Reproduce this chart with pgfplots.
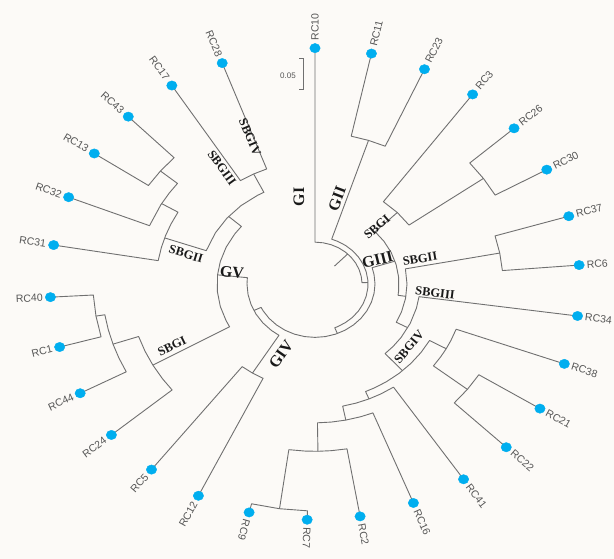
\documentclass[border=0pt]{standalone}
\usepackage{pgfplots}
\pgfplotsset{compat=1.18}
\usepackage{pgfplotstable}
\usepackage{fontspec}
\setmainfont{Liberation Serif}
\newfontfamily\tipfont{Liberation Sans}

\definecolor{bgcol}{RGB}{252,250,247}
\definecolor{branch}{RGB}{112,112,112}
\definecolor{tipblue}{RGB}{0,174,239}
\definecolor{tiptext}{RGB}{85,85,85}
\definecolor{grptext}{RGB}{25,25,25}

\tikzset{
  grp/.style={font=\bfseries\fontsize{16}{18}\selectfont, text=grptext, inner sep=0pt},
  sub/.style={font=\bfseries\fontsize{12.5}{14}\selectfont, text=grptext, inner sep=0pt},
  tipR/.style={anchor=west, inner xsep=7.5pt, inner ysep=0pt, font=\tipfont\fontsize{10.5}{12}\selectfont, text=tiptext},
  tipL/.style={anchor=east, inner xsep=7.5pt, inner ysep=0pt, font=\tipfont\fontsize{10.5}{12}\selectfont, text=tiptext},
}
\pgfplotsset{
  br/.style={draw=branch, line width=0.9pt, no markers, data cs=polar, line join=round},
}

% tip positions: angle (deg), radius
\pgfplotstableread{
t r
90 265
77.7 265
65.6 265
53.5 265
41.3 265
29.0 265
16.7 265
4.6 265
-7.8 265
-19.8 265
-31.9 265
-43.8 265
-55.9 265
-68.2 265
-80.2 265
-91.7 265
-104.4 265
-116.1 265
-128.1 265
-140.2 265
-152.4 265
-164.5 265
-176.8 265
170.5 265
158.4 265
146.4 265
134.8 265
122.7 265
110.5 265
}\tips

% tip label: angle, rotation, name (right-hand and left-hand reading)
\newcommand{\tipR}[3]{\node[tipR, rotate=#2] at (axis cs:{265*cos(#1)},{265*sin(#1)}) {#3};}
\newcommand{\tipL}[3]{\node[tipL, rotate=#2] at (axis cs:{265*cos(#1)},{265*sin(#1)}) {#3};}

\begin{document}
\begin{tikzpicture}
\begin{axis}[
  width=614pt, height=559pt, scale only axis,
  xmin=-315, xmax=299, ymin=-309.0, ymax=319.1,
  axis line style={draw=none}, xtick=\empty, ytick=\empty,
  axis background/.style={fill=bgcol},
  clip=false,
]
% backbone
\addplot[br] coordinates {(45.9,28) (45.9,47)};
\addplot[br] coordinates {(90,265) (90,47) (80,47) (70,47) (60,47) (50,47) (40,47) (30,47) (20,47) (10,47) (1.8,47) (1.8,53)};
\addplot[br] coordinates {(71.65,170) (71.65,53) (65,53) (55,53) (45,53) (35,53) (25,53) (15,53) (5,53) (-5,53) (-15,53) (-25,53) (-35,53) (-45,53) (-55,53) (-65,53) (-68.1,53) (-68.1,60)};
\addplot[br] coordinates {(17.8,84) (17.8,60) (10,60) (0,60) (-10,60) (-20,60) (-30,60) (-40,60) (-50,60) (-60,60) (-70,60) (-80,60) (-90,60) (-100,60) (-110,60) (-120,60) (-130,60) (-140,60) (-150,60) (-154,60) (-154,68)};
\addplot[br] coordinates {(-122,118) (-122,68) (-130,68) (-140,68) (-150,68) (-160,68) (-170,68) (-180,68) (-186,68) (-186,98)};
% GII
\addplot[br] coordinates {(77.7,265) (77.7,170) (71.65,170) (65.6,170) (65.6,265)};
% GIV
\addplot[br] coordinates {(-128.1,265) (-128.1,118) (-122,118) (-116.1,118) (-116.1,265)};
% GV
\addplot[br] coordinates {(138.7,115) (138.7,98) (145,98) (155,98) (165,98) (174,98) (185,98) (195,98) (205,98) (209.35,98) (209.35,186)};
\addplot[br] coordinates {(161,159) (161,115) (150,115) (140,115) (130,115) (120,115) (116.4,115) (116.4,138)};
\addplot[br] coordinates {(122.7,265) (122.7,138) (116.4,138) (110.5,138) (110.5,265)};
\addplot[br] coordinates {(170.5,265) (170.5,159) (165,159) (160,159) (155,159) (149.5,159) (149.5,178)};
\addplot[br] coordinates {(158.4,265) (158.4,178) (150,178) (145,178) (140.6,178) (140.6,200)};
\addplot[br] coordinates {(146.4,265) (146.4,200) (140.6,200) (134.8,200) (134.8,265)};
\addplot[br] coordinates {(219.8,265) (219.8,186) (215,186) (209.35,186) (204,186) (198.5,186) (198.5,213)};
\addplot[br] coordinates {(207.6,265) (207.6,213) (203,213) (198.5,213) (194,213) (189.35,213) (189.35,222)};
\addplot[br] coordinates {(195.5,265) (195.5,222) (189.35,222) (183.2,222) (183.2,265)};
% GIII
\addplot[br] coordinates {(44.3,115) (44.3,84) (35,84) (25,84) (15,84) (5,84) (-5,84) (-8.7,84) (-8.7,92)};
\addplot[br] coordinates {(53.5,265) (53.5,115) (44.3,115) (35.15,115) (35.15,206)};
\addplot[br] coordinates {(41.3,265) (41.3,206) (35.15,206) (29,206) (29,265)};
\addplot[br] coordinates {(10.65,188) (10.65,92) (0,92) (-10,92) (-20,92) (-27.9,92) (-27.9,105)};
\addplot[br] coordinates {(16.7,265) (16.7,188) (10.65,188) (4.6,188) (4.6,265)};
\addplot[br] coordinates {(-7.8,265) (-7.8,105) (-15,105) (-25,105) (-35,105) (-42,105) (-48.1,105) (-48.1,131)};
\addplot[br] coordinates {(-29,150) (-29,131) (-36,131) (-43,131) (-50,131) (-57,131) (-63,131) (-67.3,131) (-67.3,140)};
\addplot[br] coordinates {(-19.8,265) (-19.8,150) (-25,150) (-29,150) (-33,150) (-37.85,150) (-37.85,193)};
\addplot[br] coordinates {(-31.9,265) (-31.9,193) (-37.85,193) (-43.8,193) (-43.8,265)};
\addplot[br] coordinates {(-55.9,265) (-55.9,140) (-62,140) (-67.3,140) (-73,140) (-78.6,140) (-78.6,156)};
\addplot[br] coordinates {(-68.2,265) (-68.2,156) (-73,156) (-78.6,156) (-84,156) (-89.1,156) (-89.1,188)};
\addplot[br] coordinates {(-80.2,265) (-80.2,188) (-85,188) (-89.1,188) (-93,188) (-98,188) (-98,255)};
\addplot[br] coordinates {(-104.4,265) (-104.4,255) (-98,255) (-91.7,255) (-91.7,265)};

% scale bar
\addplot[draw=branch, line width=0.8pt, no markers] coordinates {(-16,254) (-12,254) (-12,219) (-16,219)};
\node[font=\tipfont\fontsize{8}{9}\selectfont, text=tiptext] at (axis cs:-27,234) {0.05};

% tips
\addplot[only marks, data cs=polar, mark=*, mark size=5.2pt,
  mark options={draw=tipblue, fill=tipblue, yscale=0.9}]
  table[x=t, y=r] {\tips};

\tipR{90}{90}{RC10}
\tipR{77.7}{76.2}{RC11}
\tipR{65.6}{63.0}{RC23}
\tipR{53.5}{50.2}{RC3}
\tipR{41.3}{38.0}{RC26}
\tipR{29.0}{26.3}{RC30}
\tipR{16.7}{14.95}{RC37}
\tipR{4.6}{4.1}{RC6}
\tipR{-7.8}{-6.95}{RC34}
\tipR{-19.8}{-17.8}{RC38}
\tipR{-31.9}{-29.0}{RC21}
\tipR{-43.8}{-40.5}{RC22}
\tipR{-55.9}{-52.7}{RC41}
\tipR{-68.2}{-65.8}{RC16}
\tipR{-80.2}{-79.0}{RC2}
\tipR{-91.7}{-91.9}{RC7}
\tipR{-104.4}{-106.1}{RC9}
\tipL{-116.1}{61.1}{RC12}
\tipL{-128.1}{48.6}{RC5}
\tipL{-140.2}{36.5}{RC24}
\tipL{-152.4}{24.95}{RC44}
\tipL{-164.5}{13.9}{RC1}
\tipL{-176.8}{2.85}{RC40}
\tipL{170.5}{-8.5}{RC31}
\tipL{158.4}{-19.4}{RC32}
\tipL{146.4}{-30.6}{RC13}
\tipL{134.8}{-41.9}{RC43}
\tipL{122.7}{-54.2}{RC17}
\tipL{110.5}{-67.2}{RC28}

% group labels
\node[grp, rotate=90] at (axis cs:-16,97.8) {GI};
\node[grp, rotate=69.6] at (axis cs:22,95.5) {GII};
\node[grp, rotate=14] at (axis cs:62.5,27) {GIII};
\node[grp, rotate=55] at (axis cs:-34,-78.7) {GIV};
\node[grp, rotate=-5.3] at (axis cs:-83,13.5) {GV};
\node[sub, rotate=26.6] at (axis cs:-143,-69.7) {SBGI};
\node[sub, rotate=-17] at (axis cs:-129,33.7) {SBGII};
\node[sub, rotate=-54.2] at (axis cs:-93,130.3) {SBGIII};
\node[sub, rotate=-67.2] at (axis cs:-65,165.2) {SBGIV};
\node[sub, rotate=41] at (axis cs:62,64) {SBGI};
\node[sub, rotate=9.5] at (axis cs:105,28.1) {SBGII};
\node[sub, rotate=-6.95] at (axis cs:120,-10.1) {SBGIII};
\node[sub, rotate=50] at (axis cs:94,-70.8) {SBGIV};
\end{axis}
\pgfresetboundingbox
\path[use as bounding box] (current axis.south west) rectangle (current axis.north east);
\end{tikzpicture}
\end{document}
